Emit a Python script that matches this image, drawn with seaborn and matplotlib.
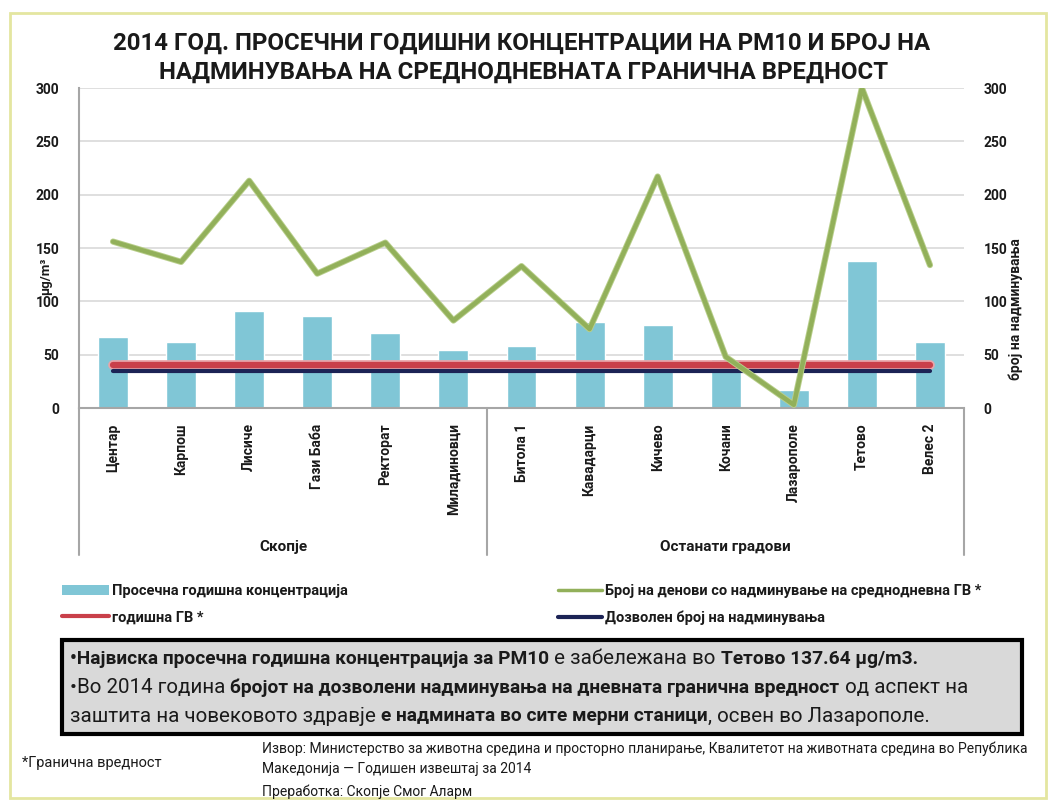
import matplotlib
matplotlib.use("Agg")
import matplotlib.pyplot as plt
import matplotlib.patheffects as pe
import matplotlib.transforms as mtransforms
from matplotlib.patches import Rectangle, Patch
from matplotlib.lines import Line2D
import seaborn as sns
import pandas as pd

# ---------------- data ----------------
stations = ["Центар", "Карпош", "Лисиче", "Гази Баба", "Ректорат", "Миладиновци",
            "Битола 1", "Кавадарци", "Кичево", "Кочани", "Лазарополе", "Тетово", "Велес 2"]
groups = ["Скопје"] * 6 + ["Останати градови"] * 7
pm10_mean = [67, 62, 91, 86, 70, 54, 58, 81, 78, 46, 17, 137.64, 62]
exceed_days = [156, 137, 213, 126, 155, 82, 133, 74, 217, 48, 3, 300, 134]
annual_limit = 40       # µg/m3
allowed_exceed = 35     # days
yticks = [0, 50, 100, 150, 200, 250, 300]

title_lines = ["2014 ГОД. ПРОСЕЧНИ ГОДИШНИ КОНЦЕНТРАЦИИ НА PM10 И БРОЈ НА",
               "НАДМИНУВАЊА НА СРЕДНОДНЕВНАТА ГРАНИЧНА ВРЕДНОСТ"]
legend_labels = ["Просечна годишна концентрација", "годишна ГВ *",
                 "Број на денови со надминување на среднодневна ГВ *",
                 "Дозволен број на надминувања"]

# ---------------- style ----------------
sns.set_theme(style="white")
plt.rcParams["font.family"] = ["Roboto", "DejaVu Sans"]
TXT = "#1a1a1a"
BAR = "#80c6d6"
GREEN = "#92b05a"
RED = "#c9404a"
NAVY = "#1c2355"
GRID = "#d9d9d9"
SPINE = "#a6a6a6"

W, H = 1051, 800
fig = plt.figure(figsize=(W / 100, H / 100), dpi=100)
fig.patch.set_facecolor("white")


def fx(p):
    return p / W


def fy(p):
    return 1 - p / H


# outer frame
fig.add_artist(Rectangle((fx(10), fy(798)), fx(1036), (798 - 13) / H,
                         transform=fig.transFigure, fill=False,
                         edgecolor="#e4e6a0", lw=2))

L, R, T, B = 79, 964, 88, 408
ax = fig.add_axes([fx(L), fy(B), fx(R - L), (B - T) / H])

df = pd.DataFrame({"station": stations, "group": groups, "pm10": pm10_mean,
                   "days": exceed_days, "pos": list(range(len(stations)))})
df["gv"] = annual_limit
df["allowed"] = allowed_exceed

sns.barplot(data=df, x="station", y="pm10", color=BAR, saturation=1,
            width=0.44, ax=ax, zorder=2)
sns.lineplot(data=df, x="pos", y="gv", ax=ax, color=RED, lw=4.5, zorder=3,
             path_effects=[pe.Stroke(linewidth=7, foreground="#e9a4a8"), pe.Normal()])

ax.set_xlim(-0.5, len(stations) - 0.5)
ax.set_ylim(0, 300)
ax.set_yticks(yticks)
ax.set_yticklabels([str(v) for v in yticks])
ax.yaxis.grid(True, color=GRID, lw=1.2, zorder=0)
ax.set_axisbelow(True)
ax.set_xticks(range(len(stations)))
ax.set_xticklabels(stations, rotation=90, fontsize=10, fontweight="bold", color=TXT)
ax.tick_params(axis="x", length=0, pad=11)
ax.tick_params(axis="y", length=0, pad=14, labelsize=10, labelcolor=TXT)
for lbl in ax.get_yticklabels():
    lbl.set_fontweight("bold")
ax.set_xlabel("")
ax.set_ylabel("µg/m³", fontsize=9.5, fontweight="bold", color=TXT)
ax.yaxis.set_label_coords(-0.03, 0.41)
for s in ["top", "right"]:
    ax.spines[s].set_visible(False)
for s in ["left", "bottom"]:
    ax.spines[s].set_color(SPINE)
    ax.spines[s].set_linewidth(1.5)

ax2 = ax.twinx()
sns.lineplot(data=df, x="pos", y="allowed", ax=ax2, color=NAVY, lw=3, zorder=3)
sns.lineplot(data=df, x="pos", y="days", ax=ax2, color=GREEN, lw=3.2, zorder=4,
             path_effects=[pe.Stroke(linewidth=4.5, foreground="#b9cf8c"), pe.Normal()])
ax2.set_ylim(0, 300)
ax2.set_xlim(-0.5, len(stations) - 0.5)
ax2.set_yticks(yticks)
ax2.set_yticklabels([str(v) for v in yticks])
ax2.tick_params(axis="y", length=0, pad=14, labelsize=10, labelcolor=TXT)
for lbl in ax2.get_yticklabels():
    lbl.set_fontweight("bold")
ax2.set_xlabel("")
ax2.set_ylabel("број на надминувања", fontsize=10, fontweight="bold", color=TXT, rotation=90)
ax2.yaxis.set_label_coords(1.05, 0.31)
for s in ax2.spines.values():
    s.set_visible(False)
ax2.grid(False)

# category group box below axis
blend = mtransforms.blended_transform_factory(ax.transData, ax.transAxes)
box_bottom = -(555 - B) / (B - T)
for xpos in [-0.5, 5.5, len(stations) - 0.5]:
    ax.plot([xpos, xpos], [0, box_bottom], transform=blend, color=SPINE, lw=1.5,
            clip_on=False)
grp_names = list(dict.fromkeys(groups))
for g in grp_names:
    idx = [i for i, gg in enumerate(groups) if gg == g]
    ax.text((idx[0] + idx[-1]) / 2, -(547 - B) / (B - T), g, transform=blend,
            ha="center", va="center", fontsize=11, fontweight="bold", color=TXT)

# title
fig.text(fx(522), fy(43), title_lines[0], ha="center", va="center",
         fontsize=17.3, fontweight="bold", color=TXT)
fig.text(fx(524), fy(72), title_lines[1], ha="center", va="center",
         fontsize=17.3, fontweight="bold", color=TXT)

# legends
h_bar = Patch(facecolor=BAR, edgecolor="none")
h_red = Line2D([], [], color=RED, lw=3)
h_green = Line2D([], [], color=GREEN, lw=2.5)
h_navy = Line2D([], [], color=NAVY, lw=3)
lprop = {"weight": "bold", "size": 10.5}
leg1 = fig.legend([h_bar, h_red], legend_labels[:2], loc="upper left",
                  bbox_to_anchor=(fx(62), fy(584)), frameon=False, prop=lprop,
                  handlelength=3.2, handletextpad=0.2, labelspacing=0.85,
                  borderaxespad=0, borderpad=0)
leg2 = fig.legend([h_green, h_navy], legend_labels[2:], loc="upper left",
                  bbox_to_anchor=(fx(558), fy(584)), frameon=False, prop=lprop,
                  handlelength=3.0, handletextpad=0.2, labelspacing=0.85,
                  borderaxespad=0, borderpad=0)
for leg in (leg1, leg2):
    for t in leg.get_texts():
        t.set_color(TXT)

# summary box
fig.add_artist(Rectangle((fx(62), fy(734)), fx(960), (734 - 640) / H,
                         transform=fig.transFigure, facecolor="#d9d9d9",
                         edgecolor="black", lw=3))

renderer = fig.canvas.get_renderer()


def runs(x_px, y_px, parts, size_normal, size_bold):
    x = x_px
    for txt, bold in parts:
        t = fig.text(fx(x), fy(y_px), txt, ha="left", va="center",
                     fontsize=size_bold if bold else size_normal,
                     fontweight="bold" if bold else "normal", color=TXT)
        bb = t.get_window_extent(renderer)
        x = bb.x1


box_lines = [
    [("•Највиска просечна годишна концентрација за PM10", True),
     (" е забележана во ", False), ("Тетово 137.64 µg/m3.", True)],
    [("•Во 2014 година ", False),
     ("бројот на дозволени надминувања на дневната гранична вредност", True),
     (" од аспект на", False)],
    [("заштита на човековото здравје ", False),
     ("е надмината во сите мерни станици", True),
     (", освен во Лазарополе.", False)],
]
for i, parts in enumerate(box_lines):
    runs(70, 659 + i * 28.5, parts, 14.8, 13.8)

# footnotes
fig.text(fx(22), fy(763), "*Гранична вредност", ha="left", va="center",
         fontsize=10.5, color=TXT)
src = ["Извор: Министерство за животна средина и просторно планирање, Квалитетот на животната средина во Република",
       "Македонија — Годишен извештај за 2014",
       "Преработка: Скопје Смог Аларм"]
for txt, yy in zip(src, [749, 769, 792]):
    fig.text(fx(262), fy(yy), txt, ha="left", va="center", fontsize=10, color=TXT)

fig.savefig("out.png", dpi=100, facecolor="white")
